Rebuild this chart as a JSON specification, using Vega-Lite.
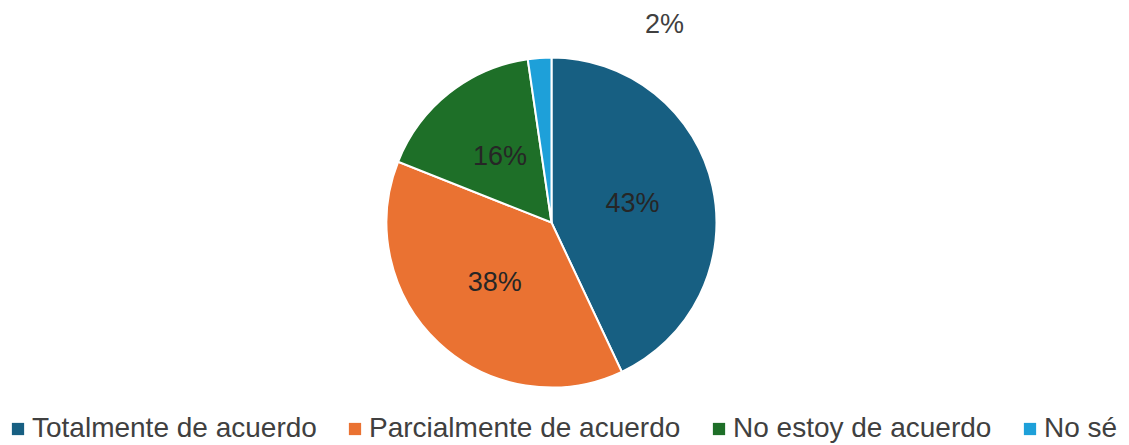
{
  "$schema": "https://vega.github.io/schema/vega-lite/v6.json",
  "width": 1103,
  "height": 445,
  "autosize": "none",
  "padding": {"left": 0, "top": 0, "right": 26, "bottom": 0},
  "background": "white",
  "config": {"view": {"stroke": null}},
  "data": {
    "values": [
      {"cat": "Totalmente de acuerdo", "idx": 1, "value": 43.0, "label": "43%"},
      {"cat": "Parcialmente de acuerdo", "idx": 2, "value": 38.0, "label": "38%"},
      {"cat": "No estoy de acuerdo", "idx": 3, "value": 16.7, "label": "16%"},
      {"cat": "No sé", "idx": 4, "value": 2.3, "label": "2%"}
    ]
  },
  "encoding": {
    "theta": {"field": "value", "type": "quantitative", "stack": true},
    "order": {"field": "idx", "type": "quantitative"}
  },
  "layer": [
    {
      "mark": {"type": "arc", "outerRadius": 165, "stroke": "white", "strokeWidth": 2},
      "encoding": {
        "color": {
          "field": "cat",
          "type": "nominal",
          "scale": {
            "domain": ["Totalmente de acuerdo", "Parcialmente de acuerdo", "No estoy de acuerdo", "No sé"],
            "range": ["#175F82", "#EA7232", "#1E6F28", "#1EA0D9"]
          },
          "legend": {
            "title": null,
            "orient": "none",
            "direction": "horizontal",
            "legendX": 4,
            "legendY": 415,
            "padding": 0,
            "symbolType": "square",
            "symbolSize": 150,
            "symbolStrokeWidth": 0,
            "labelFont": "Liberation Sans",
            "labelFontSize": 28,
            "labelColor": "#404040",
            "labelOffset": 0,
            "columnPadding": 24,
            "labelLimit": 500
          }
        }
      }
    },
    {
      "mark": {"type": "text", "radius": 83, "font": "Liberation Sans", "fontSize": 27, "align": "center", "baseline": "middle"},
      "encoding": {
        "text": {"condition": {"test": "datum.value < 5", "value": ""}, "field": "label"},
        "color": {"value": "#262626"}
      }
    },
    {
      "mark": {"type": "text", "radius": 83, "dx": 119, "dy": -115, "font": "Liberation Sans", "fontSize": 27, "align": "center", "baseline": "middle"},
      "encoding": {
        "text": {"condition": {"test": "datum.value >= 5", "value": ""}, "field": "label"},
        "color": {"value": "#404040"}
      }
    }
  ]
}
